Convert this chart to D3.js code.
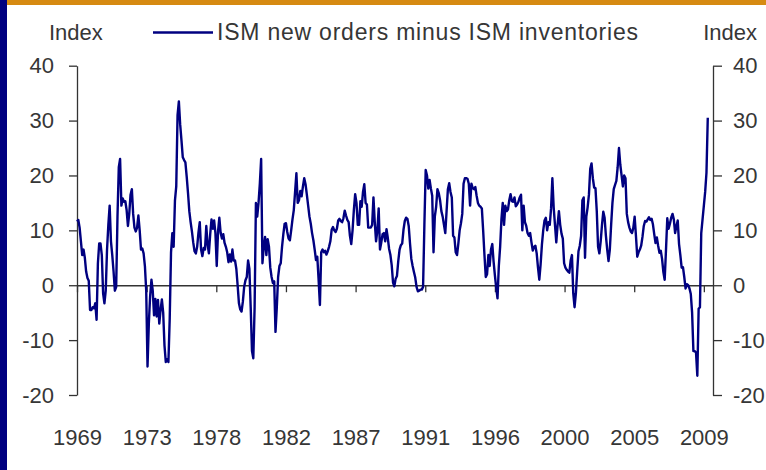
<!DOCTYPE html>
<html>
<head>
<meta charset="utf-8">
<script src="https://cdn.jsdelivr.net/npm/d3@7/dist/d3.min.js"></script>
<style>
  html, body { margin: 0; padding: 0; background: #ffffff; }
  svg { display: block; }
  text { font-family: "Liberation Sans", Arial, sans-serif; fill: #363636; }
</style>
</head>
<body>
<svg id="chart" width="766" height="470"></svg>
<script>
// ---------------- DATA ----------------
const startYear = 1969;           // monthly series, first value = Jan 1969
const seriesName = "ISM new orders minus ISM inventories";
const axisTitle = "Index";
const values = [
  11.6, 11.9, 10.5, 8, 5.5, 6.5, 5, 2.5, 1.3, 0.8, -4.5, -4.5,
  -4, -4.2, -3.3, -6.3, 4, 7.6, 7.6, 5.5, -1.5, -3.3, -1, 6.5,
  11, 14.5, 8, 5.5, 2.5, -1, -0.3, 12.5, 21.5, 23, 14.5, 15.8,
  15.2, 15.3, 13.7, 10.8, 13, 16.5, 17.5, 13, 10.5, 9.8, 10.5, 12.7,
  10, 6.5, 6.7, 5.8, 3.5, -1, -14.8, -7, -2, 1, -1, -5.5,
  -2.5, -5.7, -2.7, -7, -4.5, -2.6, -5, -11, -14, -13.5, -14, -6,
  6, 9.5, 7, 15.4, 18, 31, 33.5, 29.3, 26.4, 23.3, 22.8, 22.4,
  19.8, 16.8, 13.5, 11.5, 9.8, 7.8, 6.2, 5.8, 7, 9.6, 11.5, 6.5,
  5.3, 6.8, 6.5, 10.8, 7.4, 5.8, 9.3, 12, 10.3, 11.8, 9.5, 3.5,
  9.8, 12.3, 9.5, 8.5, 9.3, 7.7, 7, 6, 4.2, 5.6, 4.3, 6.5,
  4.5, 4.5, 3, 0, -3.3, -4.4, -4.8, -3, -0.3, 0.9, 1.5, 4.5,
  3, -4, -12, -13.3, -4, 15, 12.5, 15, 18.5, 23, 4, 7,
  8.8, 5.5, 8.4, 7, 3.2, 1.5, 0.4, 0.7, -8.5, -4, 1.5, 3.5,
  4, 7, 9.3, 11.2, 11.3, 9.7, 8.5, 8.2, 10, 12, 13.7, 17,
  20.4, 15, 15.5, 17.2, 16.2, 18, 19.5, 18.4, 16.5, 14.5, 12.5, 11.2,
  9.5, 8.2, 6.5, 4.6, 5.2, 1, -3.6, 6, 6.5, 6, 6.3, 5.6,
  6.2, 7, 8, 10.1, 10.6, 10, 9.7, 10.3, 11.8, 12.1, 11.7, 11.5,
  12.2, 13.6, 12.7, 11.9, 11.5, 9, 7.5, 10, 13.7, 16.6, 15, 11,
  11, 15.3, 14.3, 17, 18.4, 15, 14.7, 10.5, 10.5, 10.5, 11, 16,
  11.5, 8, 10, 14, 6.5, 7.8, 9.3, 9.5, 8, 10.2, 8.6, 6.6,
  5.5, 3.6, 0.5, -0.2, 1.2, 1.7, 4.4, 6.5, 7.3, 7.6, 10.1, 11.7,
  12.3, 12.1, 10.8, 7.6, 4.8, 3.5, 2.4, 1.4, -0.3, -1.1, -1, -0.8,
  -0.8, -0.3, 11, 21, 20, 17.6, 19.2, 17.6, 16.3, 6, 12.5, 14.3,
  17.5, 16.8, 15.5, 13.5, 12.5, 11, 9.5, 13.5, 17.5, 18.6, 17, 16,
  9, 8.7, 6, 5.5, 7.6, 10, 11.3, 13, 18.5, 19.5, 19.5, 19.4,
  18.5, 14.5, 18.5, 17.7, 17.5, 17.9, 16.3, 15, 14.5, 14.3, 14, 10,
  5.5, 1.5, 2, 5.5, 3.5, 6.5, 7.5, 4.3, 1.8, -0.5, -2.4, 3.5,
  7, 12, 15, 11, 14.5, 13.5, 13.8, 15.5, 16.6, 15.3, 15.2, 16,
  14.4, 14.7, 15.2, 16, 16.5, 10, 14.5, 11.5, 10.8, 9.5, 9, 9.5,
  7.8, 6.3, 7, 7.2, 5.8, 3.2, 1, 3.8, 7.4, 10, 11.8, 12.3,
  10, 11.5, 11, 14, 19.5, 14.2, 11, 7.8, 11, 13.5, 11, 9.4,
  8.5, 4, 3.2, 2.8, 2.5, 2.3, 4.5, 5.5, -1.5, -4, -1.5, 2.5,
  6.2, 7.2, 9, 15.5, 16, 5, 12.5, 14.2, 16.5, 21.2, 22.2, 19.5,
  17.8, 17.7, 13.5, 7, 5.8, 8, 11, 13.4, 12.3, 9, 6.5, 4.4,
  6.5, 11, 15, 17.5, 18.3, 19, 21.5, 25, 22, 20, 18, 20,
  19.5, 13, 11.5, 10.5, 9.8, 9.5, 10.5, 12.5, 9, 5.2, 6, 6.5,
  7.2, 8.8, 10.8, 11.7, 11.6, 12, 12.4, 11.9, 12.1, 11.1, 9.3, 7.7,
  8.7, 7.2, 5.9, 6.3, 4.8, 2.4, 1, 6.4, 12.2, 10.3, 11.2, 12.3,
  13, 12, 9.5, 10.8, 11.8, 7.5, 5.5, 3.2, 3.3, 1.5, -0.6, 0.2,
  0, -0.6, -1.6, -5, -12, -12, -12.3, -16.5, -4.3, -4, 9.5, 12,
  14.5, 17, 20.5, 30.5
];
const xLabels = ["1969", "1973", "1978", "1982", "1987", "1991", "1996", "2000", "2005", "2009"];
const yTicks = [-20, -10, 0, 10, 20, 30, 40];

// ---------------- LAYOUT ----------------
const W = 766, H = 470;
const plotLeft = 77, plotRight = 713, plotTop = 65.7, plotBottom = 395;
const navy = "#000080";
const axisColor = "#333333";
const fontStack = '"Liberation Sans", Arial, sans-serif';

const svg = d3.select("#chart");

// frame decorations
svg.append("rect").attr("x", 0).attr("y", 0).attr("width", W).attr("height", H).attr("fill", "#ffffff");
svg.append("rect").attr("x", 0).attr("y", 0).attr("width", 7).attr("height", H).attr("fill", "#000080");
svg.append("rect").attr("x", 7).attr("y", 0).attr("width", W - 7).attr("height", 5).attr("fill", "#D68A12");

// scales
const xEnd = startYear + 487 / 12;   // axis extends a bit beyond the last tick
const x = d3.scaleLinear().domain([startYear, xEnd]).range([plotLeft, plotRight]);
const y = d3.scaleLinear().domain([-20, 40]).range([plotBottom, plotTop]);
const tickYears = xLabels.map((_, k) => startYear + k * (40 / (xLabels.length - 1)));
const fmt = d => String(d);   // plain hyphen minus like the reference

// left axis
const gL = svg.append("g").attr("transform", `translate(${plotLeft},0)`)
  .call(d3.axisLeft(y).tickValues(yTicks).tickSize(8).tickSizeOuter(0).tickPadding(15).tickFormat(fmt));
// right axis
const gR = svg.append("g").attr("transform", `translate(${plotRight},0)`)
  .call(d3.axisRight(y).tickValues(yTicks).tickSize(9).tickSizeOuter(0).tickPadding(11).tickFormat(fmt));
[gL, gR].forEach(g => {
  g.select(".domain").attr("stroke", axisColor).attr("stroke-width", 1.3);
  g.selectAll(".tick line").attr("stroke", axisColor).attr("stroke-width", 1.3);
  g.selectAll(".tick text").attr("font-size", 22).attr("fill", "#363636")
    .style("font-family", fontStack);
});

// zero line with small ticks
const gZ = svg.append("g").attr("transform", `translate(0,${y(0)})`)
  .call(d3.axisBottom(x).tickValues(tickYears).tickSize(7).tickSizeOuter(0).tickFormat(""));
gZ.select(".domain").attr("stroke", axisColor).attr("stroke-width", 1.3);
gZ.selectAll(".tick line").attr("stroke", axisColor).attr("stroke-width", 1.3);

// bottom year labels
const gX = svg.append("g").attr("transform", `translate(0,${plotBottom})`)
  .call(d3.axisBottom(x).tickValues(tickYears).tickSize(0).tickPadding(34)
    .tickFormat((d, i) => xLabels[i]));
gX.select(".domain").remove();
gX.selectAll(".tick text").attr("font-size", 22).attr("fill", "#363636")
  .style("font-family", fontStack);

// series line
const line = d3.line()
  .x((d, i) => x(startYear + i / 12))
  .y(d => y(d));
svg.append("path")
  .datum(values)
  .attr("d", line)
  .attr("fill", "none")
  .attr("stroke", navy)
  .attr("stroke-width", 2.4)
  .attr("stroke-linejoin", "round");

// titles and legend
svg.append("text").attr("x", 49).attr("y", 40).attr("font-size", 22).text(axisTitle);
svg.append("text").attr("x", 757).attr("y", 40).attr("font-size", 22).attr("text-anchor", "end").text(axisTitle);
svg.append("line").attr("x1", 153).attr("x2", 213).attr("y1", 32.5).attr("y2", 32.5)
  .attr("stroke", navy).attr("stroke-width", 2.5);
svg.append("text").attr("x", 217).attr("y", 40).attr("font-size", 23)
  .attr("textLength", 421).attr("lengthAdjust", "spacing").text(seriesName);
</script>
</body>
</html>
